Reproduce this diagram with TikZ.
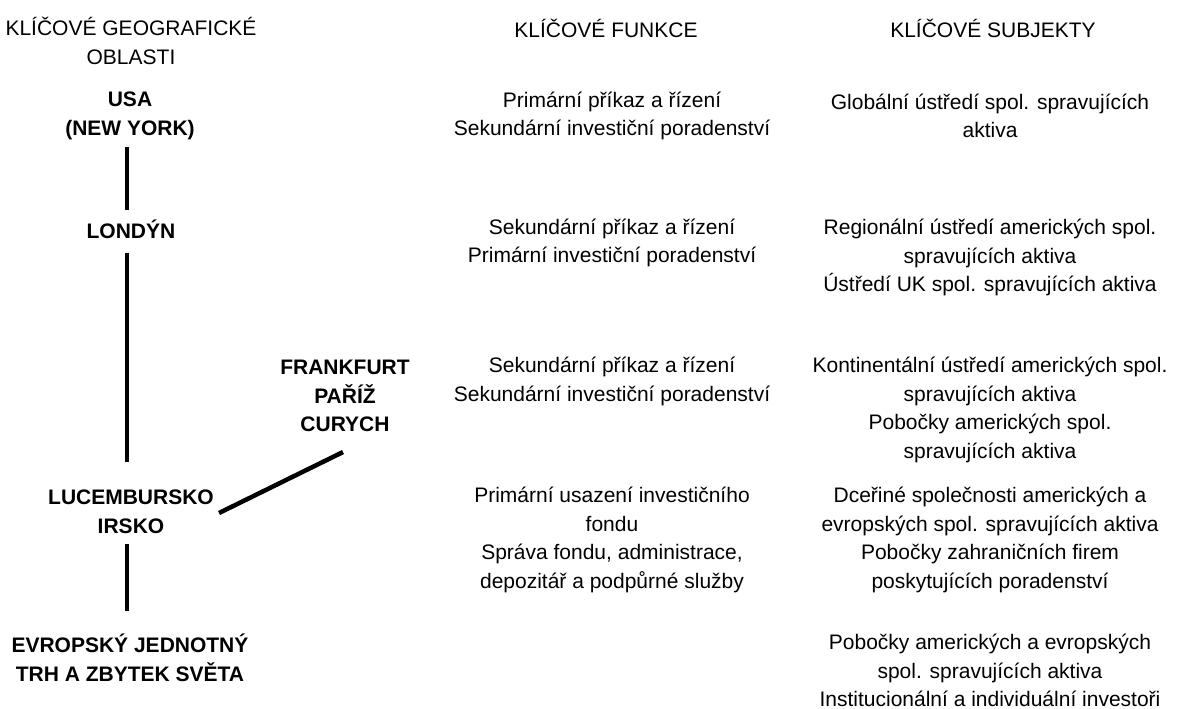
\documentclass[tikz,border=0pt]{standalone}
\usepackage{fontspec}
\setmainfont{Liberation Sans}
\begin{document}
\begin{tikzpicture}[x=1pt,y=-1pt,
  txt/.style={align=center,inner sep=0pt,font=\fontsize{21}{28.5}\selectfont},
  bold/.style={txt,font=\fontsize{21}{28.5}\selectfont\bfseries},
  conn/.style={line width=4.5pt}]
\useasboundingbox (0,0) rectangle (1184,709);
% headers
\node[txt] (h1) at (131,41) {KLÍČOVÉ GEOGRAFICKÉ\\OBLASTI};
\node[txt] (h2) at (606,28) {KLÍČOVÉ FUNKCE};
\node[txt] (h3) at (993,28) {KLÍČOVÉ SUBJEKTY};
% geographic column
\node[bold] (usa) at (130,116) {USA\\(NEW YORK)};
\node[bold] (lon) at (131,229) {LONDÝN};
\node[bold] (fpc) at (345,396) {FRANKFURT\\PAŘÍŽ\\CURYCH};
\node[bold] (lux) at (131,512) {LUCEMBURSKO\\IRSKO};
\node[bold] (eu) at (130,658) {EVROPSKÝ JEDNOTNÝ\\TRH A ZBYTEK SVĚTA};
% functions
\node[txt] (f1) at (612,116) {Primární příkaz a řízení\\Sekundární investiční poradenství};
\node[txt] (f2) at (612,243) {Sekundární příkaz a řízení\\Primární investiční poradenství};
\node[txt] (f3) at (612,381.5) {Sekundární příkaz a řízení\\Sekundární investiční poradenství};
\node[txt] (f4) at (612,540) {Primární usazení investičního\\fondu\\Správa fondu, administrace,\\depozitář a podpůrné služby};
% subjects
\node[txt] (s1) at (990,116) {Globální ústředí spol. spravujících\\aktiva};
\node[txt] (s2) at (990,257.5) {Regionální ústředí amerických spol.\\spravujících aktiva\\Ústředí UK spol. spravujících aktiva};
\node[txt] (s3) at (990,410) {Kontinentální ústředí amerických spol.\\spravujících aktiva\\Pobočky amerických spol.\\spravujících aktiva};
\node[txt] (s4) at (990,540) {Dceřiné společnosti amerických a\\evropských spol. spravujících aktiva\\Pobočky zahraničních firem\\poskytujících poradenství};
\node[txt] (s5) at (990,670.5) {Pobočky amerických a evropských\\spol. spravujících aktiva\\Institucionální a individuální investoři};
% connectors
\draw[conn,shorten <=7pt,shorten >=9pt] ([xshift=-3pt]usa.south) -- ([xshift=-4pt]lon.north);
\draw[conn,shorten <=14pt,shorten >=28pt] ([xshift=-4pt]lon.south) -- ([xshift=-4pt]lux.north);
\draw[conn,shorten <=10pt,shorten >=23pt] ([xshift=-4pt]lux.south) -- ([xshift=-3pt]eu.north);
\draw[conn] ([xshift=5pt,yshift=-1pt]lux.east) -- ([xshift=-2pt,yshift=-20pt]fpc.south);
\end{tikzpicture}
\end{document}
